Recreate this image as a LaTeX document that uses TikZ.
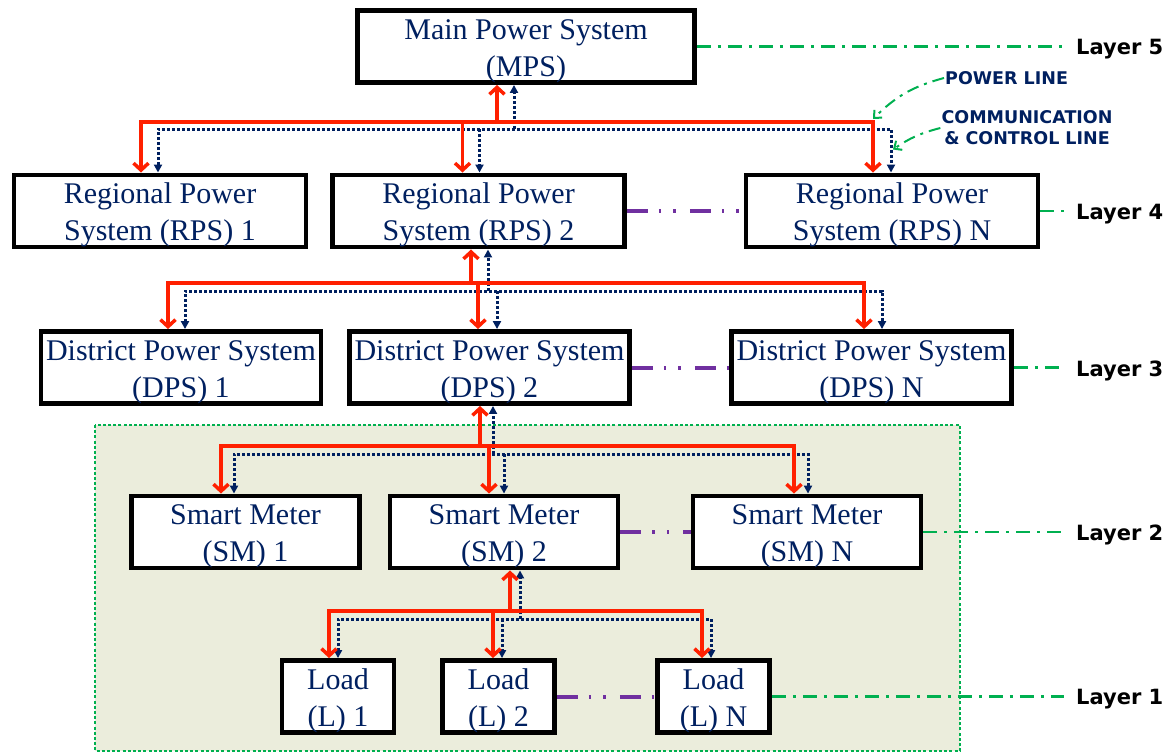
\documentclass[tikz,border=0pt]{standalone}
\usepackage{fontspec}
\setmainfont{Liberation Serif}
\newfontfamily\labelfont{DejaVu Sans}
\usepackage{xcolor}
\usetikzlibrary{positioning, arrows.meta, calc}

\definecolor{boxtext}{RGB}{0,32,96}
\definecolor{powerred}{RGB}{255,32,0}
\definecolor{commblue}{RGB}{0,32,96}
\definecolor{layergreen}{RGB}{0,176,80}
\definecolor{peerpurple}{RGB}{112,48,160}
\definecolor{panelfill}{RGB}{235,237,220}

\begin{document}
\begin{tikzpicture}[
  x=1pt, y=-1pt,
  box/.style={draw, line width=4.5pt, fill=white, align=center, inner sep=0pt,
    text=boxtext, font=\fontsize{30}{37}\selectfont,
    execute at begin node={\rule{0pt}{66pt}}},
  mpsbox/.style={box, minimum width=337, minimum height=68},
  rpsbox/.style={box, minimum width=292, minimum height=67},
  dpsbox/.style={box, minimum width=280, minimum height=66},
  smbox/.style={box, minimum width=228, minimum height=67},
  loadbox/.style={box, minimum width=112, minimum height=68},
  pwr/.style={draw=powerred, line width=3.5pt, >={Straight Barb[length=7pt,width=15pt]}},
  ctl/.style={draw=commblue, line width=3pt, dash pattern=on 3pt off 2pt,
    >={Triangle[length=8pt,width=8pt]}},
  peer/.style={draw=peerpurple, line width=4pt,
    dash pattern=on 21pt off 11pt on 2.5pt off 12pt on 2.5pt off 14pt},
  layerln/.style={draw=layergreen, line width=2.5pt, dash pattern=on 14pt off 7pt on 3pt off 7pt},
  layer/.style={anchor=west, inner xsep=12pt, inner ysep=0pt, yshift=-3pt,
    font=\labelfont\bfseries\fontsize{21}{25}\selectfont},
  legend/.style={inner sep=1pt, text=commblue, font=\labelfont\bfseries\fontsize{17.5}{21}\selectfont},
  pointer/.style={draw=layergreen, line width=2pt, dash pattern=on 12pt off 6pt on 3pt off 6pt,
    -{Straight Barb[length=6pt,width=11pt]}},
  panel/.style={fill=panelfill, draw=layergreen, line width=2.5pt, dash pattern=on 3pt off 2.2pt}
]
\useasboundingbox (0,0) rectangle (1176,753);

% customer side
\draw[panel] (95,425) rectangle (960,751);

% bus levels
\coordinate (bus1r) at (0,122);
\coordinate (bus1c) at (0,129);
\coordinate (bus2r) at (0,283);
\coordinate (bus2c) at (0,291);
\coordinate (bus3r) at (0,446);
\coordinate (bus3c) at (0,454);
\coordinate (bus4r) at (0,611);
\coordinate (bus4c) at (0,619);

% layer 5
\node[mpsbox] (mps) at (526,46.5) {Main Power System\\(MPS)};

% layer 4
\node[rpsbox] (rps1) at (160,211) {Regional Power\\System (RPS) 1};
\node[rpsbox] (rps2) at (478.5,211) {Regional Power\\System (RPS) 2};
\node[rpsbox] (rpsn) at (892,211) {Regional Power\\System (RPS) N};

% layer 3
\node[dpsbox] (dps1) at (181,367.5) {District Power System\\(DPS) 1};
\node[dpsbox] (dps2) at (489.5,367.5) {District Power System\\(DPS) 2};
\node[dpsbox] (dpsn) at (871.5,367.5) {District Power System\\(DPS) N};

% layer 2
\node[smbox] (sm1) at (245.5,532) {Smart Meter\\(SM) 1};
\node[smbox] (sm2) at (504,532) {Smart Meter\\(SM) 2};
\node[smbox] (smn) at (807,532) {Smart Meter\\(SM) N};

% layer 1
\node[loadbox] (ld1) at (338,696.5) {Load\\(L) 1};
\node[loadbox] (ld2) at (498.5,696.5) {Load\\(L) 2};
\node[loadbox] (ldn) at (713.5,696.5) {Load\\(L) N};

% where the lines meet the boxes
\coordinate (mpsP) at ($(mps.south)+(-29,0)$);
\coordinate (mpsC) at ($(mps.south)+(-12,0)$);
\coordinate (rpsAP) at ($(rps1.north)+(-19,0)$);
\coordinate (rpsAC) at ($(rps1.north)+(-2,0)$);
\coordinate (rpsBP) at ($(rps2.north)+(-16,0)$);
\coordinate (rpsBC) at ($(rps2.north)+(1,0)$);
\coordinate (rpsNP) at ($(rpsn.north)+(-19,0)$);
\coordinate (rpsNC) at ($(rpsn.north)+(-1,0)$);
\coordinate (rpsBoutP) at ($(rps2.south)+(-7.5,0)$);
\coordinate (rpsBoutC) at ($(rps2.south)+(9.5,0)$);
\coordinate (dpsAP) at ($(dps1.north)+(-13,0)$);
\coordinate (dpsAC) at ($(dps1.north)+(4,0)$);
\coordinate (dpsBP) at ($(dps2.north)+(-11.5,0)$);
\coordinate (dpsBC) at ($(dps2.north)+(7.5,0)$);
\coordinate (dpsNP) at ($(dpsn.north)+(-7.5,0)$);
\coordinate (dpsNC) at ($(dpsn.north)+(10.5,0)$);
\coordinate (dpsBoutP) at ($(dps2.south)+(-9.5,0)$);
\coordinate (dpsBoutC) at ($(dps2.south)+(3.5,0)$);
\coordinate (smAP) at ($(sm1.north)+(-24.5,0)$);
\coordinate (smAC) at ($(sm1.north)+(-11.5,0)$);
\coordinate (smBP) at ($(sm2.north)+(-15,0)$);
\coordinate (smBC) at ($(sm2.north)+(0,0)$);
\coordinate (smNP) at ($(smn.north)+(-13,0)$);
\coordinate (smNC) at ($(smn.north)+(1,0)$);
\coordinate (smBoutP) at ($(sm2.south)+(6,0)$);
\coordinate (smBoutC) at ($(sm2.south)+(16,0)$);
\coordinate (ldAP) at ($(ld1.north)+(-9,0)$);
\coordinate (ldAC) at ($(ld1.north)+(0,0)$);
\coordinate (ldBP) at ($(ld2.north)+(-5.5,0)$);
\coordinate (ldBC) at ($(ld2.north)+(3.5,0)$);
\coordinate (ldNP) at ($(ldn.north)+(-11.5,0)$);
\coordinate (ldNC) at ($(ldn.north)+(-2.5,0)$);

% MPS -> RPS
\draw[ctl,->] (mpsC |- bus1c) -- (mpsC);
\draw[ctl,<->] (rpsAC) |- (rpsNC |- bus1c) -- (rpsNC);
\draw[ctl,->] (rpsBC |- bus1c) -- (rpsBC);
\draw[pwr,->] (mpsP |- bus1r) -- (mpsP);
\draw[pwr,<->] (rpsAP) |- (rpsNP |- bus1r) -- (rpsNP);
\draw[pwr,->] (rpsBP |- bus1r) -- (rpsBP);

% RPS 2 -> DPS
\draw[ctl,->] (rpsBoutC |- bus2c) -- (rpsBoutC);
\draw[ctl,<->] (dpsAC) |- (dpsNC |- bus2c) -- (dpsNC);
\draw[ctl,->] (dpsBC |- bus2c) -- (dpsBC);
\draw[pwr,->] (rpsBoutP |- bus2r) -- (rpsBoutP);
\draw[pwr,<->] (dpsAP) |- (dpsNP |- bus2r) -- (dpsNP);
\draw[pwr,->] (dpsBP |- bus2r) -- (dpsBP);

% DPS 2 -> SM
\draw[ctl,->] (dpsBoutC |- bus3c) -- (dpsBoutC);
\draw[ctl,<->] (smAC) |- (smNC |- bus3c) -- (smNC);
\draw[ctl,->] (smBC |- bus3c) -- (smBC);
\draw[pwr,->] (dpsBoutP |- bus3r) -- (dpsBoutP);
\draw[pwr,<->] (smAP) |- (smNP |- bus3r) -- (smNP);
\draw[pwr,->] (smBP |- bus3r) -- (smBP);

% SM 2 -> loads
\draw[ctl,->] (smBoutC |- bus4c) -- (smBoutC);
\draw[ctl,<->] (ldAC) |- (ldNC |- bus4c) -- (ldNC);
\draw[ctl,->] (ldBC |- bus4c) -- (ldBC);
\draw[pwr,->] (smBoutP |- bus4r) -- (smBoutP);
\draw[pwr,<->] (ldAP) |- (ldNP |- bus4r) -- (ldNP);
\draw[pwr,->] (ldBP |- bus4r) -- (ldBP);

% same layer
\draw[peer] (rps2.east) -- (rpsn.west);
\draw[peer] (dps2.east) -- (dpsn.west);
\draw[peer] (sm2.east) -- (smn.west);
\draw[peer] (ld2.east) -- (ldn.west);

% layer labels
\node[layer] (lay5) at (mps.east -| 1064,0) {Layer 5};
\node[layer] (lay4) at (rpsn.east -| 1064,0) {Layer 4};
\node[layer] (lay3) at (dpsn.east -| 1064,0) {Layer 3};
\node[layer] (lay2) at (smn.east -| 1064,0) {Layer 2};
\node[layer] (lay1) at (ldn.east -| 1064,0) {Layer 1};
\draw[layerln] (mps.east) -- (mps.east -| lay5.west);
\draw[layerln] (rpsn.east) -- (rpsn.east -| lay4.west);
\draw[layerln] (dpsn.east) -- (dpsn.east -| lay3.west);
\draw[layerln] (smn.east) -- (smn.east -| lay2.west);
\draw[layerln] (ldn.east) -- (ldn.east -| lay1.west);

% legend
\node[legend, anchor=west] (pwtxt) at (944,78) {POWER LINE};
\node[legend, align=center] (cctxt) at (1027,128) {COMMUNICATION\\\& CONTROL LINE};
\coordinate (pwend) at ($(rpsNP |- bus1r)+(0,-3)$);
\coordinate (ccend) at ($(rpsNC)+(2,-23)$);
\draw[pointer] (pwtxt.west) to[bend right=15] (pwend);
\draw[pointer] (cctxt.west) to[bend right=10] (ccend);
\end{tikzpicture}
\end{document}
